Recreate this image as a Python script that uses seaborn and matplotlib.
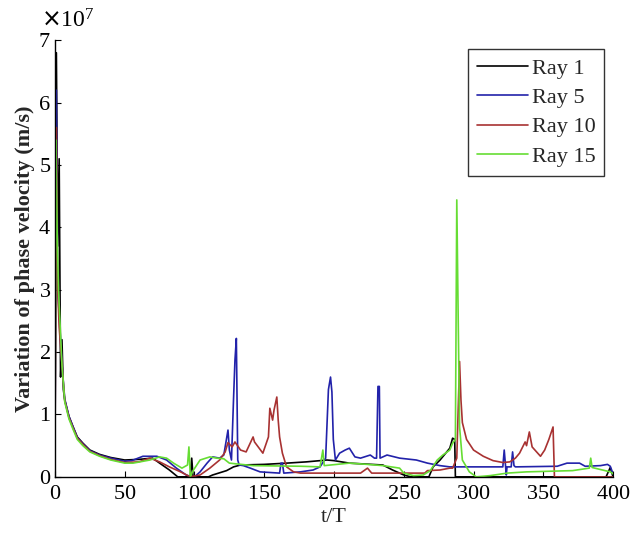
import pandas as pd
import matplotlib
matplotlib.use('Agg')
import matplotlib.pyplot as plt
import seaborn as sns

# 각 ray 의 (t/T, 위상속도 변화량 [x1e7 m/s]) 값 - 그림에서 읽은 값
ray1 = [(0, 0.3), (1, 6.8), (2, 3.7), (3, 5.1), (4, 1.6), (5, 2.2), (6, 1.4), (7, 1.23),
        (10, 0.97), (13, 0.8), (16, 0.64), (20, 0.54), (25, 0.43), (32, 0.36), (40, 0.31),
        (50, 0.27), (60, 0.28), (70, 0.3), (75, 0.22), (82, 0.11), (88, 0.0), (97, 0.0),
        (98, 0.3), (99, 0.0), (110, 0.0), (113, 0.03), (123, 0.1), (128, 0.16), (133, 0.19),
        (150, 0.2), (166, 0.22), (180, 0.24), (195, 0.27), (200, 0.26), (211, 0.22),
        (235, 0.19), (242, 0.11), (250, 0.03), (255, 0.0), (268, 0.0), (271, 0.16),
        (276, 0.27), (283, 0.46), (285, 0.62), (286.5, 0.6), (287, 0.0), (395, 0.0),
        (398, 0.15), (400, 0.0)]

ray5 = [(0, 0.3), (1, 6.2), (2, 3.0), (3, 2.6), (5, 1.8), (7, 1.25), (10, 0.97), (13, 0.8),
        (16, 0.63), (20, 0.53), (25, 0.42), (32, 0.35), (40, 0.3), (50, 0.25), (55, 0.26),
        (63, 0.33), (73, 0.33), (80, 0.27), (87, 0.14), (94, 0.03), (98, 0.0), (100, 0.0),
        (104, 0.08), (109, 0.22), (113, 0.32), (118, 0.3), (121, 0.35), (124, 0.75),
        (125, 0.43), (126.5, 0.27), (128, 1.26), (129, 1.87), (130, 2.22), (131, 0.27),
        (132, 0.19), (135, 0.18), (140, 0.14), (147, 0.08), (161, 0.06), (162, 0.22),
        (163, 0.22), (164, 0.06), (176, 0.08), (185, 0.11), (190, 0.16), (194, 0.3),
        (196, 1.4), (197.5, 1.6), (198.5, 1.36), (199.5, 0.6), (201, 0.27), (204, 0.38),
        (208, 0.43), (211, 0.46), (215, 0.32), (219, 0.3), (226, 0.35), (229, 0.3),
        (230.5, 0.3), (231.5, 1.45), (232.5, 1.45), (233, 0.3), (238, 0.35), (247, 0.3),
        (259, 0.27), (267, 0.22), (276, 0.18), (283, 0.16), (321, 0.16), (322, 0.43),
        (323, 0.16), (323.5, 0.03), (324, 0.16), (327, 0.16), (328, 0.4), (329, 0.18),
        (330, 0.16), (360, 0.17), (367, 0.22), (376, 0.22), (380, 0.17), (391, 0.18),
        (396, 0.2), (398, 0.17), (400, 0.05)]

ray10 = [(0, 0.3), (1, 5.6), (2, 3.0), (3, 2.4), (5, 1.8), (7, 1.22), (10, 0.95), (13, 0.78),
         (16, 0.62), (20, 0.52), (25, 0.41), (32, 0.34), (40, 0.28), (50, 0.23), (60, 0.24),
         (68, 0.3), (75, 0.24), (82, 0.16), (90, 0.08), (97, 0.0), (104, 0.03), (111, 0.14),
         (118, 0.27), (122, 0.4), (124, 0.55), (127, 0.48), (129, 0.56), (133, 0.43),
         (137, 0.4), (142, 0.64), (143, 0.56), (149, 0.38), (153, 0.64), (154, 1.1),
         (156, 0.91), (157, 1.07), (159, 1.28), (160, 0.91), (161, 0.64), (163, 0.38),
         (166, 0.16), (171, 0.08), (176, 0.06), (219, 0.06), (224, 0.14), (227, 0.06),
         (265, 0.06), (267, 0.1), (276, 0.11), (283, 0.14), (285, 0.14), (288, 0.3),
         (290, 1.85), (291, 1.23), (292, 0.87), (295, 0.6), (300, 0.43), (307, 0.33),
         (314, 0.26), (321, 0.23), (326, 0.24), (330, 0.3), (333, 0.38), (337, 0.56),
         (338, 0.5), (340, 0.72), (342, 0.48), (344, 0.43), (348, 0.33), (351, 0.43),
         (354, 0.6), (357, 0.8), (358, 0.0), (400, 0.0)]

ray15 = [(0, 0.5), (0.7, 5.4), (1.5, 4.0), (2.5, 3.0), (5, 1.8), (7, 1.2), (10, 0.93),
         (13, 0.76), (16, 0.6), (20, 0.5), (25, 0.4), (32, 0.33), (40, 0.27), (50, 0.22),
         (56, 0.22), (68, 0.27), (75, 0.32), (80, 0.3), (85, 0.22), (91, 0.14), (95, 0.19),
         (96, 0.48), (97, 0.0), (99, 0.1), (104, 0.27), (111, 0.32), (116, 0.3), (121, 0.29),
         (125, 0.22), (142, 0.18), (176, 0.17), (190, 0.16), (192, 0.43), (193, 0.18),
         (211, 0.22), (224, 0.2), (235, 0.18), (247, 0.14), (250, 0.06), (257, 0.02),
         (264, 0.03), (269, 0.1), (274, 0.27), (278, 0.35), (283, 0.43), (285, 0.54),
         (287, 0.6), (288, 4.44), (289, 2.56), (290, 0.8), (292, 0.27), (297, 0.08),
         (302, 0.0), (312, 0.02), (324, 0.06), (338, 0.08), (371, 0.1), (383, 0.14),
         (384, 0.3), (385, 0.15), (398, 0.08), (400, 0.05)]

ray_names = ['Ray 1', 'Ray 5', 'Ray 10', 'Ray 15']
ray_colors = ['#000000', '#2222aa', '#a83232', '#66dd33']
x_ticks = [0, 50, 100, 150, 200, 250, 300, 350, 400]
y_ticks = [0, 1e7, 2e7, 3e7, 4e7, 5e7, 6e7, 7e7]

# long-form 데이터프레임 생성
frames = []
for name, pts in zip(ray_names, [ray1, ray5, ray10, ray15]):
    d = pd.DataFrame(pts, columns=['t', 'v'])
    d['v'] = d['v'] * 1e7
    d['ray'] = name
    frames.append(d)
df = pd.concat(frames, ignore_index=True)

sns.set_style('ticks')
plt.rcParams['font.family'] = ['Liberation Serif', 'DejaVu Serif']
plt.rcParams['axes.formatter.use_mathtext'] = True
plt.rcParams['xtick.direction'] = 'in'
plt.rcParams['ytick.direction'] = 'in'

fig = plt.figure(figsize=(6.32, 5.37), dpi=100)
ax = fig.add_axes([0.087, 0.112, 0.883, 0.813])

sns.lineplot(data=df, x='t', y='v', hue='ray', palette=ray_colors,
             estimator=None, sort=False, linewidth=1.2, ax=ax)

ax.set_xlim(0, 400)
ax.set_ylim(0, 7e7)
ax.set_xticks(x_ticks)
ax.set_yticks(y_ticks)
ax.tick_params(labelsize=16, length=4, width=0.8, colors='black', pad=3)
ax.tick_params(axis='x', pad=6)
ax.ticklabel_format(axis='y', style='sci', scilimits=(7, 7))
# 지수 표시(x10^7)를 눈금 라벨 위로 올림
ax.yaxis.OFFSETTEXTPAD = 9
off = ax.yaxis.get_offset_text()
off.set_fontsize(17)
off.set_x(-0.025)

for s in ['top', 'right']:
    ax.spines[s].set_visible(False)
for s in ['left', 'bottom']:
    ax.spines[s].set_linewidth(1.0)
    ax.spines[s].set_color('black')

ax.set_xlabel('t/T', fontsize=16, labelpad=3)
ax.set_ylabel('Variation of phase velocity (m/s)', fontsize=16,
              fontweight='bold', labelpad=2)

leg = ax.legend(loc='upper right', fontsize=16, frameon=True, fancybox=False,
                edgecolor='black', handlelength=2.3, borderaxespad=0.4,
                labelspacing=0.4, handletextpad=0.15, borderpad=0.4)
leg.get_frame().set_linewidth(1.0)
leg.set_title(None)

plt.savefig('out.png', dpi=100)
print('finished')
